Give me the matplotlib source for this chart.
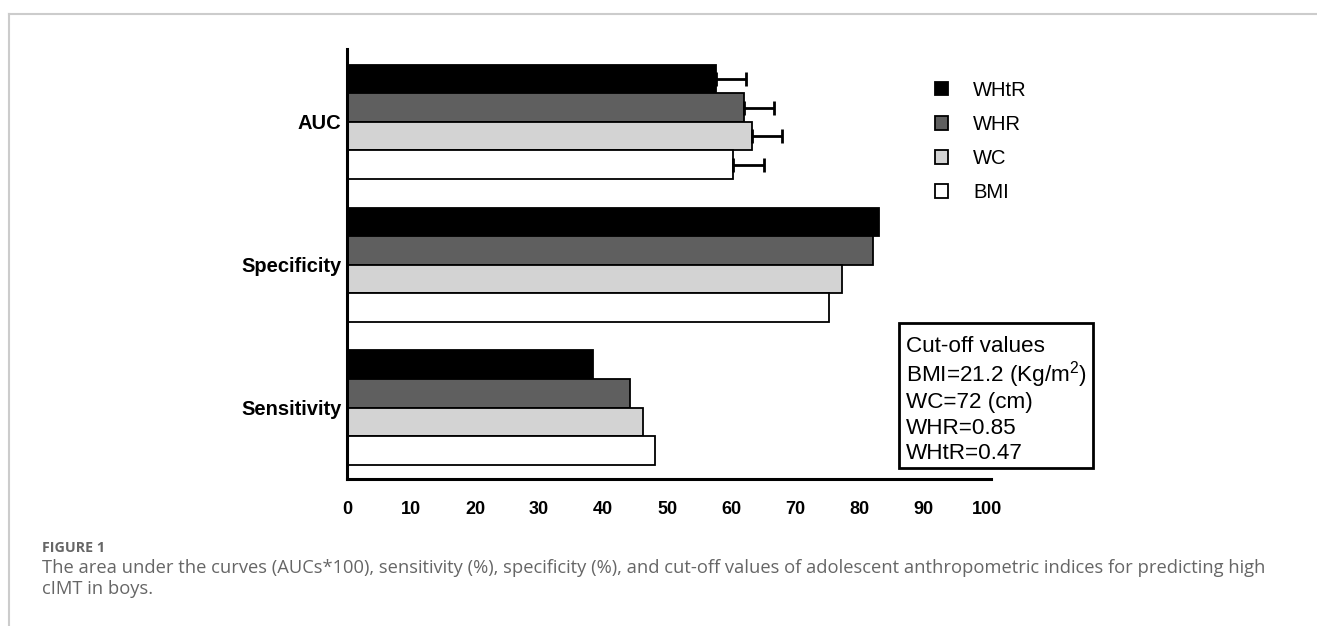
import matplotlib
matplotlib.use("Agg")
import matplotlib.pyplot as plt
import numpy as np
from matplotlib.lines import Line2D
from matplotlib.patches import Rectangle

plt.rcParams['font.family'] = ['Liberation Sans', 'DejaVu Sans']
plt.rcParams['mathtext.fontset'] = 'custom'
plt.rcParams['mathtext.rm'] = 'Liberation Sans'
plt.rcParams['mathtext.it'] = 'Liberation Sans:italic'
plt.rcParams['mathtext.bf'] = 'Liberation Sans:bold'

# ---- data ----
categories = ["AUC", "Specificity", "Sensitivity"]
series = ["WHtR", "WHR", "WC", "BMI"]
whtr = [57.7, 83.1, 38.5]
whr = [62.0, 82.1, 44.2]
wc = [63.3, 77.3, 46.2]
bmi = [60.3, 75.3, 48.1]
auc_err = [4.7, 4.7, 4.7, 4.9]   # upper error on AUC bars (WHtR, WHR, WC, BMI)
xticks = [0, 10, 20, 30, 40, 50, 60, 70, 80, 90, 100]
cutoff_lines = ["Cut-off values", "BMI=21.2 (Kg/m$^{2}$)", "WC=72 (cm)", "WHR=0.85", "WHtR=0.47"]
caption_title = "FIGURE 1"
caption_text = ("The area under the curves (AUCs*100), sensitivity (%), specificity (%), and cut-off values of adolescent anthropometric indices for predicting high\n"
                "cIMT in boys.")

colors = ["#000000", "#5f5f5f", "#d3d3d3", "#ffffff"]

W, H = 1317, 626
fig = plt.figure(figsize=(W / 100, H / 100), dpi=100)

# frame lines of the figure panel
fig.add_artist(Line2D([9 / W, 1], [1 - 14 / H, 1 - 14 / H], color="#cccccc", lw=1.5))
fig.add_artist(Line2D([9 / W, 9 / W], [0, 1 - 14 / H], color="#cccccc", lw=1.5))

ax = fig.add_axes([347 / W, 1 - 479 / H, (991 - 347) / W, (479 - 49) / H])

pos = np.arange(len(categories))
offsets = [-0.3, -0.1, 0.1, 0.3]
vals = [whtr, whr, wc, bmi]
for i, (name, v) in enumerate(zip(series, vals)):
    ax.barh(pos + offsets[i], v, height=0.2, color=colors[i], edgecolor="black",
            linewidth=1.3, label=name, zorder=2)

# error bars on AUC only
auc_vals = [whtr[0], whr[0], wc[0], bmi[0]]
auc_pos = [pos[0] + o for o in offsets]
ax.errorbar(auc_vals, auc_pos, xerr=[np.zeros(4), auc_err], fmt="none",
            ecolor="black", elinewidth=2.0, capsize=4.8, capthick=2.0, zorder=3)

ax.set_xlim(0, 100.6)
ax.set_ylim(2.5, -0.51)
ax.set_yticks(pos)
ax.set_yticklabels(categories, fontsize=14.5, fontweight="bold")
ax.set_xticks(xticks)
ax.set_xticklabels([str(t) for t in xticks], fontsize=13, fontweight="bold")
ax.tick_params(axis="x", length=0, pad=16)
ax.tick_params(axis="y", length=0, pad=4)
for s in ["top", "right"]:
    ax.spines[s].set_visible(False)
for s in ["left", "bottom"]:
    ax.spines[s].set_linewidth(2.2)

leg = fig.legend(loc="center left", bbox_to_anchor=(935 / W, 1 - 141.5 / H),
                 frameon=False, fontsize=14.5, handlelength=0.65, handleheight=0.65,
                 handletextpad=1.25, labelspacing=0.75, borderpad=0, borderaxespad=0)

# cut-off box
fig.add_artist(Rectangle((899 / W, 1 - 468 / H), (1093 - 899) / W, (468 - 322.5) / H,
                         transform=fig.transFigure, facecolor="white", edgecolor="black",
                         linewidth=2))
baselines = [352, 382, 408, 434, 459]
for txt, yb in zip(cutoff_lines, baselines):
    fig.text(906 / W, 1 - yb / H, txt, fontsize=16.2, va="baseline", ha="left")

# caption
fig.text(42 / W, 1 - 548 / H, caption_title, fontsize=10.3, fontweight="bold", color="#666666",
         family=["Open Sans", "DejaVu Sans"], va="center", ha="left")
fig.text(42 / W, 1 - 578.5 / H, caption_text, fontsize=13.25, color="#666666",
         family=["Open Sans", "DejaVu Sans"], va="center", ha="left", linespacing=1.2)

fig.savefig("out.png", dpi=100)
